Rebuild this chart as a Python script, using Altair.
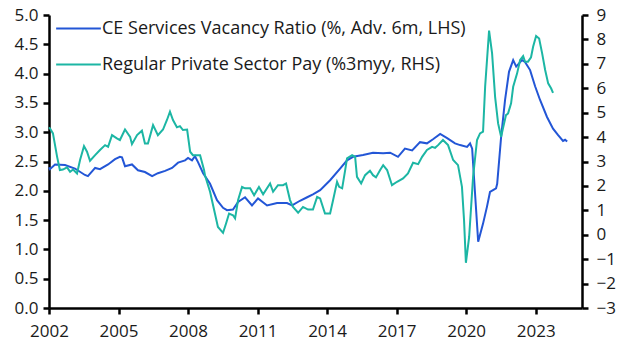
import altair as alt
import pandas as pd

# CE Services Vacancy Ratio (%, Adv. 6m, LHS)
vac_year = [2002.00, 2002.04, 2002.26, 2002.69, 2003.12, 2003.55, 2003.68, 2003.99, 2004.20, 2004.55,
            2004.85, 2005.06, 2005.15, 2005.28, 2005.58, 2005.84, 2006.14, 2006.45, 2006.70, 2007.01,
            2007.31, 2007.57, 2007.87, 2008.00, 2008.17, 2008.30, 2008.43, 2008.65, 2008.95, 2009.25,
            2009.51, 2009.68, 2009.94, 2010.16, 2010.46, 2010.76, 2011.02, 2011.41, 2011.84, 2012.27,
            2012.49, 2012.83, 2013.14, 2013.39, 2013.70, 2014.13, 2014.56, 2014.86, 2015.12, 2015.55,
            2015.98, 2016.42, 2016.72, 2017.06, 2017.36, 2017.67, 2018.01, 2018.31, 2018.57, 2018.88,
            2019.18, 2019.52, 2019.74, 2020.04, 2020.17, 2020.26, 2020.30, 2020.52, 2020.73, 2020.90,
            2021.03, 2021.16, 2021.29, 2021.34, 2021.51, 2021.68, 2021.85, 2022.03, 2022.16, 2022.41,
            2022.54, 2022.76, 2022.98, 2023.19, 2023.49, 2023.75, 2023.97, 2024.18, 2024.27, 2024.36]
vac_value = [2.40, 2.37, 2.45, 2.44, 2.38, 2.27, 2.25, 2.39, 2.37, 2.45,
             2.54, 2.58, 2.57, 2.42, 2.45, 2.35, 2.32, 2.25, 2.30, 2.34,
             2.39, 2.48, 2.52, 2.56, 2.52, 2.59, 2.49, 2.30, 2.12, 1.84,
             1.71, 1.67, 1.68, 1.81, 1.89, 1.75, 1.87, 1.75, 1.79, 1.79,
             1.75, 1.83, 1.89, 1.94, 2.01, 2.18, 2.38, 2.52, 2.58, 2.61,
             2.65, 2.64, 2.65, 2.58, 2.72, 2.69, 2.83, 2.81, 2.88, 2.97,
             2.90, 2.81, 2.78, 2.75, 2.81, 2.72, 2.47, 1.13, 1.44, 1.73,
             1.98, 2.01, 2.04, 2.12, 2.92, 3.55, 4.03, 4.23, 4.12, 4.23,
             4.20, 4.06, 3.78, 3.55, 3.26, 3.06, 2.95, 2.85, 2.87, 2.84]

# Regular Private Sector Pay (%3myy, RHS)
pay_year = [2002.00, 2002.04, 2002.17, 2002.35, 2002.47, 2002.60, 2002.78, 2002.91, 2003.04, 2003.21,
            2003.34, 2003.51, 2003.64, 2003.77, 2003.99, 2004.20, 2004.42, 2004.55, 2004.72, 2004.93,
            2005.06, 2005.28, 2005.50, 2005.58, 2005.80, 2006.01, 2006.14, 2006.27, 2006.49, 2006.70,
            2006.92, 2007.09, 2007.22, 2007.35, 2007.52, 2007.65, 2007.78, 2007.96, 2008.09, 2008.21,
            2008.43, 2008.52, 2008.69, 2008.73, 2008.95, 2009.16, 2009.29, 2009.51, 2009.64, 2009.77,
            2009.94, 2010.03, 2010.16, 2010.33, 2010.46, 2010.68, 2010.85, 2011.06, 2011.24, 2011.54,
            2011.67, 2011.88, 2012.10, 2012.23, 2012.40, 2012.53, 2012.75, 2012.96, 2013.18, 2013.39,
            2013.57, 2013.70, 2013.91, 2014.13, 2014.26, 2014.43, 2014.52, 2014.65, 2014.78, 2014.86,
            2015.08, 2015.21, 2015.29, 2015.47, 2015.64, 2015.85, 2015.98, 2016.11, 2016.29, 2016.42,
            2016.59, 2016.80, 2017.02, 2017.28, 2017.49, 2017.71, 2017.93, 2018.10, 2018.31, 2018.53,
            2018.66, 2018.79, 2019.00, 2019.22, 2019.44, 2019.65, 2019.82, 2019.91, 2019.99, 2020.13,
            2020.30, 2020.47, 2020.60, 2020.73, 2020.82, 2020.99, 2021.12, 2021.25, 2021.38, 2021.51,
            2021.59, 2021.72, 2021.81, 2021.94, 2022.03, 2022.20, 2022.33, 2022.46, 2022.54, 2022.67,
            2022.80, 2022.89, 2023.02, 2023.15, 2023.28, 2023.41, 2023.54, 2023.67, 2023.75]
pay_value = [4.40, 4.36, 4.15, 3.19, 2.65, 2.67, 2.76, 2.58, 2.67, 2.51,
             3.06, 3.63, 3.40, 3.03, 3.26, 3.47, 3.67, 3.60, 4.08, 3.95,
             3.88, 4.31, 4.01, 3.71, 4.08, 4.26, 3.74, 3.74, 4.49, 4.08,
             4.31, 4.70, 5.04, 4.70, 4.40, 4.45, 4.29, 4.31, 3.40, 3.26,
             3.26, 3.26, 2.65, 2.44, 1.76, 0.87, 0.32, 0.08, 0.46, 0.87,
             0.80, 0.67, 1.42, 1.96, 1.90, 1.90, 1.62, 1.96, 1.66, 2.10,
             1.76, 2.03, 2.03, 2.10, 1.42, 1.14, 0.90, 1.14, 1.03, 1.03,
             1.55, 1.49, 0.87, 0.87, 1.42, 2.17, 1.96, 1.90, 2.65, 3.13,
             3.26, 3.19, 2.37, 2.10, 2.44, 2.62, 2.44, 2.35, 2.65, 2.85,
             2.65, 2.03, 2.17, 2.31, 2.51, 2.95, 2.89, 3.19, 3.47, 3.60,
             3.56, 3.67, 3.88, 3.67, 3.06, 2.85, 1.96, 0.60, -1.15, -0.09,
             2.37, 3.88, 4.15, 4.22, 6.06, 8.36, 7.43, 5.65, 4.56, 4.01,
             4.36, 4.90, 4.97, 5.38, 6.06, 6.61, 7.16, 7.32, 7.09, 7.09,
             7.27, 7.70, 8.14, 8.04, 7.43, 6.75, 6.20, 5.99, 5.81]

s1 = "CE Services Vacancy Ratio (%, Adv. 6m, LHS)"
s2 = "Regular Private Sector Pay (%3myy, RHS)"
x_ticks = [2002, 2005, 2008, 2011, 2014, 2017, 2020, 2023]
left_ticks = [0.0, 0.5, 1.0, 1.5, 2.0, 2.5, 3.0, 3.5, 4.0, 4.5, 5.0]
right_ticks = [-3, -2, -1, 0, 1, 2, 3, 4, 5, 6, 7, 8, 9]

df1 = pd.DataFrame({"year": vac_year, "value": vac_value, "series": s1})
df2 = pd.DataFrame({"year": pay_year, "value": pay_value, "series": s2})

FONT = "Open Sans"
color = alt.Color(
    "series:N",
    scale=alt.Scale(domain=[s1, s2], range=["#2356d6", "#1cb6a4"]),
    legend=alt.Legend(
        title=None, orient="none", legendX=6, legendY=-10,
        symbolType="stroke", symbolSize=2000, symbolStrokeWidth=2,
        labelFontSize=18, labelFont=FONT, labelColor="#1a1a1a",
        rowPadding=3, labelOffset=0, padding=0, labelLimit=600,
    ),
)

xenc = alt.X(
    "year:Q",
    scale=alt.Scale(domain=[2002, 2025], nice=False, zero=False),
    axis=alt.Axis(values=x_ticks, format="d", title=None, grid=False,
                  labelPadding=9, labelFlush=False),
)

left = alt.Chart(df1).mark_line(strokeWidth=2).encode(
    x=xenc,
    y=alt.Y("value:Q", scale=alt.Scale(domain=[0, 5], nice=False),
            axis=alt.Axis(orient="left", values=left_ticks, format=".1f",
                          title=None, grid=False, labelFlush=False)),
    color=color,
)

right = alt.Chart(df2).mark_line(strokeWidth=2).encode(
    x=xenc,
    y=alt.Y("value:Q", scale=alt.Scale(domain=[-3, 9], nice=False, zero=False),
            axis=alt.Axis(orient="right", values=right_ticks, format="d",
                          title=None, grid=False, labelFlush=False,
                          labelPadding=8)),
    color=color,
)

chart = alt.layer(left, right).resolve_scale(y="independent").properties(
    width=533, height=293,
    autosize=alt.AutoSizeParams(type="none"),
    padding={"left": 49, "top": 15, "right": 45, "bottom": 44},
).configure_view(stroke=None).configure_axis(
    domainColor="black", domainWidth=2.5, tickColor="black", tickWidth=2.5,
    tickSize=6, labelFontSize=17, labelFont=FONT, labelColor="#1a1a1a",
    labelPadding=5,
)

chart.save("out.html", embed_options={"renderer": "svg", "actions": False})
